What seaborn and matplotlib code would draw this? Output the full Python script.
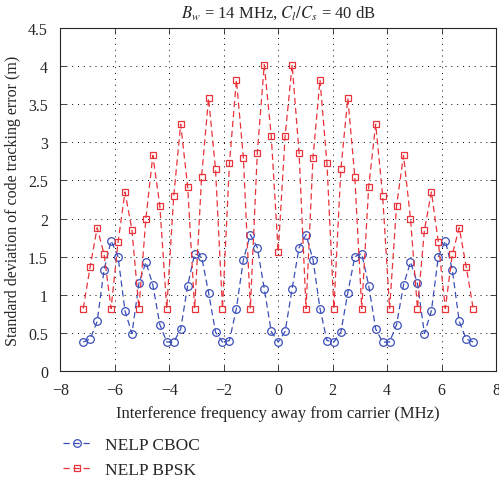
import numpy as np
import pandas as pd
import matplotlib
matplotlib.use("Agg")
import matplotlib.pyplot as plt
import seaborn as sns

# Interference frequency offsets (MHz), step 1.023/4
freq = [-7.161, -6.905, -6.649, -6.394, -6.138, -5.882, -5.627, -5.371,
        -5.115, -4.859, -4.604, -4.348, -4.092, -3.836, -3.581, -3.325,
        -3.069, -2.813, -2.558, -2.302, -2.046, -1.790, -1.535, -1.279,
        -1.023, -0.767, -0.512, -0.256, 0.0,
        0.256, 0.512, 0.767, 1.023, 1.279, 1.535, 1.790, 2.046, 2.302,
        2.558, 2.813, 3.069, 3.325, 3.581, 3.836, 4.092, 4.348, 4.604,
        4.859, 5.115, 5.371, 5.627, 5.882, 6.138, 6.394, 6.649, 6.905, 7.161]

cboc = [0.38, 0.42, 0.65, 1.33, 1.71, 1.50, 0.79, 0.49, 1.15, 1.43,
        1.13, 0.61, 0.38, 0.38, 0.55, 1.12, 1.54, 1.50, 1.03, 0.51,
        0.38, 0.40, 0.82, 1.46, 1.79, 1.62, 1.08, 0.52, 0.38,
        0.52, 1.08, 1.62, 1.79, 1.46, 0.82, 0.40, 0.38, 0.51, 1.03,
        1.50, 1.54, 1.12, 0.55, 0.38, 0.38, 0.61, 1.13, 1.43, 1.15,
        0.49, 0.79, 1.50, 1.71, 1.33, 0.65, 0.42, 0.38]

bpsk = [0.82, 1.37, 1.88, 1.53, 0.82, 1.69, 2.35, 1.85, 0.82, 2.00,
        2.83, 2.17, 0.82, 2.30, 3.24, 2.42, 0.82, 2.55, 3.58, 2.65,
        0.82, 2.73, 3.82, 2.80, 0.82, 2.86, 4.02, 3.09, 1.56,
        3.09, 4.02, 2.86, 0.82, 2.80, 3.82, 2.73, 0.82, 2.65, 3.58,
        2.55, 0.82, 2.42, 3.24, 2.30, 0.82, 2.17, 2.83, 2.00, 0.82,
        1.85, 2.35, 1.69, 0.82, 1.53, 1.88, 1.37, 0.82]

df = pd.DataFrame({"freq": freq, "NELP CBOC": cboc, "NELP BPSK": bpsk})

sns.set_style("ticks")
plt.rcParams["font.family"] = ["Liberation Serif", "DejaVu Serif"]
plt.rcParams["mathtext.fontset"] = "stix"

fig = plt.figure(figsize=(4.99, 4.85), dpi=100)
ax = fig.add_axes([0.121, 0.233, 0.873, 0.707])

sns.lineplot(data=df, x="freq", y="NELP CBOC", ax=ax, color="#3b4fb8",
             linestyle=(0, (5, 3)), linewidth=0.9, marker="o", markersize=5.5,
             markerfacecolor="none", markeredgecolor="#3b4fb8", markeredgewidth=0.9,
             label="NELP CBOC")
sns.lineplot(data=df, x="freq", y="NELP BPSK", ax=ax, color="#e8333a",
             linestyle=(0, (5, 3)), linewidth=0.9, marker="s", markersize=5,
             markerfacecolor="none", markeredgecolor="#e8333a", markeredgewidth=0.9,
             label="NELP BPSK")

ax.set_xlim(-8, 8)
ax.set_ylim(0, 4.5)
ax.set_xticks(np.arange(-8, 9, 2))
ax.set_yticks(np.arange(0, 4.6, 0.5))
ax.set_xticklabels(["\u22128", "\u22126", "\u22124", "\u22122", "0", "2", "4", "6", "8"])
ax.set_yticklabels(["0", "0.5", "1", "1.5", "2", "2.5", "3", "3.5", "4", "4.5"])
ax.tick_params(direction="in", top=True, right=True, labelsize=11.5, length=4, width=0.6)
ax.tick_params(axis="x", pad=8)
ax.tick_params(axis="y", pad=9)
ax.grid(True, color="black", linestyle=(0, (1, 5)), linewidth=0.7)
for s in ax.spines.values():
    s.set_linewidth(0.8)

ax.set_xlabel("Interference frequency away from carrier (MHz)", fontsize=12, labelpad=5)
ax.set_ylabel("Standard deviation of code tracking error (m)", fontsize=11.5, labelpad=5)
ax.set_title(r"$B_w$ = 14 MHz, $C_l/C_s$ = 40 dB", fontsize=12, pad=8)

if ax.legend_:
    ax.legend_.remove()
handles, labels = ax.get_legend_handles_labels()
fig.legend(handles, labels, loc="lower left", bbox_to_anchor=(0.095, -0.02),
           frameon=False, fontsize=12.5, handlelength=1.6, handletextpad=0.8,
           labelspacing=0.5)

fig.savefig("out.png", dpi=100)
